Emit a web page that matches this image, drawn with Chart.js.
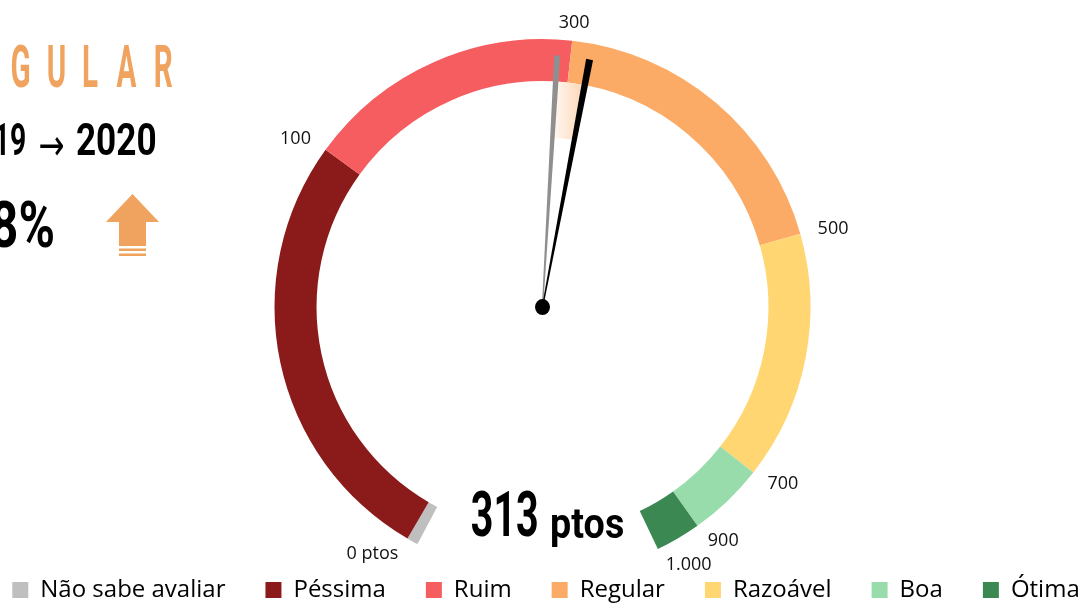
<!DOCTYPE html>
<html>
<head>
<meta charset="utf-8">
<script src="https://cdn.jsdelivr.net/npm/chart.js@4.4.1/dist/chart.umd.min.js"></script>
<style>
  html, body { margin: 0; padding: 0; background: #fff; }
  #wrap { width: 1085px; height: 604px; overflow: hidden; }
</style>
</head>
<body>
<div id="wrap"><canvas id="gauge" width="1085" height="604"></canvas></div>
<script>
// ─── Data ────────────────────────────────────────────────────────────────────

const categories = ['Não sabe avaliar', 'Péssima', 'Ruim', 'Regular', 'Razoável', 'Boa', 'Ótima'];
// share of answers (%) - sets the size of each band on the dial
const shares = [0.8, 31.2, 19.7, 22.1, 17.6, 5.4, 3.2];
const colors = ['#bfbfbf', '#8b1a1a', '#f65d61', '#fbab66', '#ffd672', '#99dcab', '#3c8852'];
// score at the end of each band
const tickValues = [0, 100, 300, 500, 700, 900, 1000];
const tickLabels = ['0 ptos', '100', '300', '500', '700', '900', '1.000'];
const years = ['2019', '2020'];
const scores = [290, 313];

const ORANGE = '#f0a35f';
const COND = 'Roboto, sans-serif';

// ─── Helpers ─────────────────────────────────────────────────────────────────

// draws text stretched so its ink fills the box [left, top, right, bottom]
function fitText(ctx, text, font, box, color) {
  ctx.save();
  ctx.font = font;
  ctx.textAlign = 'left';
  ctx.textBaseline = 'alphabetic';
  const m = ctx.measureText(text);
  const l = -m.actualBoundingBoxLeft, r = m.actualBoundingBoxRight;
  const t = -m.actualBoundingBoxAscent, b = m.actualBoundingBoxDescent;
  const sx = (box[2] - box[0]) / (r - l);
  const sy = (box[3] - box[1]) / (b - t);
  ctx.translate(box[0] - l * sx, box[1] - t * sy);
  ctx.scale(sx, sy);
  ctx.fillStyle = color;
  ctx.fillText(text, 0, 0);
  ctx.restore();
}

function bandOf(score) {
  for (let k = 1; k < tickValues.length; k++) if (score < tickValues[k]) return k;
  return tickValues.length - 1;
}

// ─── Dial extras: tick labels, needles, texts ────────────────────────────────

const gaugeExtras = {
  id: 'gaugeExtras',
  afterDraw(chart) {
    const ctx = chart.ctx;
    const arcs = chart.getDatasetMeta(0).data;
    const cx = arcs[0].x, cy = arcs[0].y;
    const outer = arcs[0].outerRadius, inner = arcs[0].innerRadius;
    const edges = arcs.map(a => a.endAngle);

    const angleOf = s => {
      for (let k = 1; k < tickValues.length; k++) {
        if (s <= tickValues[k]) {
          const t = (s - tickValues[k - 1]) / (tickValues[k] - tickValues[k - 1]);
          return edges[k - 1] + t * (edges[k] - edges[k - 1]);
        }
      }
      return edges[edges.length - 1];
    };

    // tick labels at band edges
    ctx.save();
    ctx.font = '18px "Open Sans"';
    ctx.fillStyle = '#111';
    ctx.textBaseline = 'middle';
    tickLabels.forEach((lab, k) => {
      const a = edges[k], r = outer + 18;
      const c = Math.cos(a);
      ctx.textAlign = c > 0.15 ? 'left' : c < -0.15 ? 'right' : 'center';
      ctx.fillText(lab, cx + r * c, cy + r * Math.sin(a));
    });
    ctx.restore();

    const a1 = angleOf(scores[0]), a2 = angleOf(scores[1]);

    // pale wedge between the two needles
    ctx.save();
    const g = ctx.createLinearGradient(cx + 200 * Math.cos(a1), 0, cx + 200 * Math.cos(a2), 0);
    g.addColorStop(0, '#fff7f0');
    g.addColorStop(1, '#fddbbd');
    ctx.beginPath();
    ctx.arc(cx, cy, inner, a1, a2);
    ctx.arc(cx, cy, inner - 56, a2, a1, true);
    ctx.closePath();
    ctx.fillStyle = g;
    ctx.fill();
    ctx.restore();

    const needle = (a, w, color) => {
      const L = 252;
      const ux = Math.cos(a), uy = Math.sin(a), nx = -uy, ny = ux;
      const tx = cx + ux * L, ty = cy + uy * L;
      ctx.beginPath();
      ctx.moveTo(cx + nx * 0.6, cy + ny * 0.6);
      ctx.lineTo(tx + nx * w / 2, ty + ny * w / 2);
      ctx.lineTo(tx - nx * w / 2, ty - ny * w / 2);
      ctx.lineTo(cx - nx * 0.6, cy - ny * 0.6);
      ctx.closePath();
      ctx.fillStyle = color;
      ctx.fill();
    };
    needle(a1, 6, '#8f8f8f');
    needle(a2, 7, '#000');

    ctx.beginPath();
    ctx.ellipse(cx, cy, 7.5, 8, 0, 0, Math.PI * 2);
    ctx.fillStyle = '#000';
    ctx.fill();

    // score in the gap
    fitText(ctx, String(scores[1]), `bold 100px ${COND}`, [472, 491, 537, 537], '#000');
    fitText(ctx, 'ptos', `bold 100px ${COND}`, [552, 510, 623, 547], '#000');

    // rating word, letter-spaced, right edge at x=172
    const word = categories[bandOf(scores[1])].toUpperCase();
    ctx.save();
    ctx.font = `bold 100px ${COND}`;
    ctx.textAlign = 'left';
    ctx.textBaseline = 'alphabetic';
    ctx.fillStyle = ORANGE;
    const capH = ctx.measureText('R').actualBoundingBoxAscent;
    const sy = 42 / capH, sx = sy * 0.5;
    let x = 172;
    for (let i = word.length - 1; i >= 0; i--) {
      const m = ctx.measureText(word[i]);
      x -= (m.actualBoundingBoxLeft + m.actualBoundingBoxRight) * sx;
      ctx.save();
      ctx.translate(x + m.actualBoundingBoxLeft * sx, 87);
      ctx.scale(sx, sy);
      ctx.fillText(word[i], 0, 0);
      ctx.restore();
      x -= 19;
    }
    ctx.restore();

    // years and change
    fitText(ctx, years[0], `bold 100px ${COND}`, [-38, 122, 25, 155], '#000');
    fitText(ctx, '→', '100px "DejaVu Sans"', [40, 137, 63, 156], '#000');
    fitText(ctx, years[1], `bold 100px ${COND}`, [77, 122, 155, 155], '#000');
    const pct = Math.round((scores[1] / scores[0] - 1) * 100);
    fitText(ctx, pct + '%', `bold 100px ${COND}`, [-8, 200, 53, 248], '#000');

    // up arrow
    ctx.save();
    ctx.fillStyle = ORANGE;
    ctx.beginPath();
    ctx.moveTo(132.5, 194);
    ctx.lineTo(159, 222);
    ctx.lineTo(146, 222);
    ctx.lineTo(146, 246);
    ctx.lineTo(119, 246);
    ctx.lineTo(119, 222);
    ctx.lineTo(106, 222);
    ctx.closePath();
    ctx.fill();
    ctx.fillRect(119, 248.5, 27, 2.5);
    ctx.fillRect(119, 253.5, 27, 2.5);
    ctx.restore();
  }
};

// ─── Chart ───────────────────────────────────────────────────────────────────

new Chart(document.getElementById('gauge'), {
  type: 'doughnut',
  data: {
    labels: categories,
    datasets: [{
      data: shares,
      backgroundColor: colors,
      borderWidth: 0,
      hoverOffset: 0,
      clip: false,
    }]
  },
  options: {
    responsive: false,
    animation: false,
    rotation: -152.2,
    circumference: 306.7,
    radius: 268,
    cutout: '84.3%',
    // negative side padding widens the legend row so it does not wrap
    layout: { padding: { top: 50, right: -47, bottom: -8, left: -40 } },
    plugins: {
      legend: {
        position: 'bottom',
        labels: {
          boxWidth: 16,
          boxHeight: 16,
          padding: 40,
          color: '#000',
          font: { family: "'Open Sans'", size: 24 },
        }
      },
      tooltip: { enabled: false }
    }
  },
  plugins: [gaugeExtras]
});
</script>
</body>
</html>
